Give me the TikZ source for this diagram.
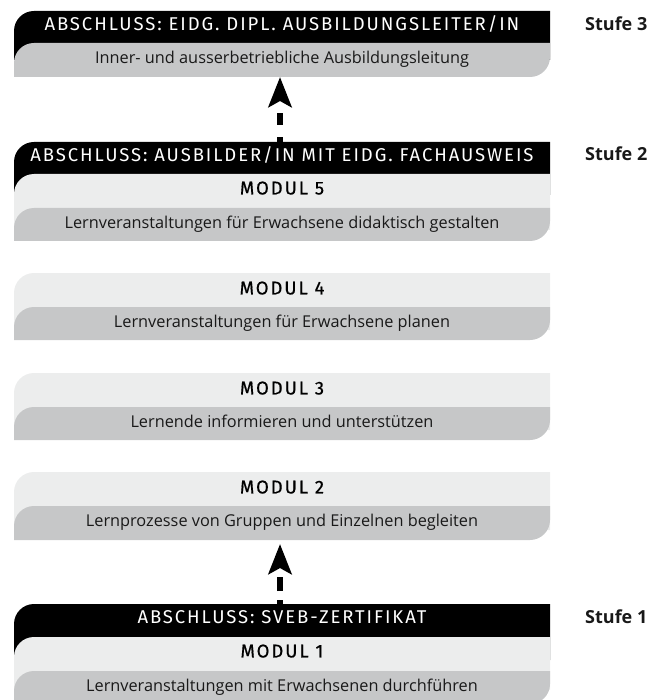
\documentclass[tikz,border=0pt]{standalone}
\usepackage{fontspec}
\usetikzlibrary{arrows.meta}
\newfontfamily\hdfont{Fira Sans}[LetterSpace=10.4]
\newfontfamily\mdfont{Fira Sans}[LetterSpace=10.4,FakeBold=0.6]
\newfontfamily\bdfont{Open Sans}
\newfontfamily\stfont{Open Sans}
\definecolor{lightB}{HTML}{ECEDED}
\definecolor{greyB}{HTML}{C6C7C8}
\newcommand{\bandTL}[3]{\fill[#1] (14,#2+20) .. controls (14,#2+8.95) and (22.95,#2) .. (34,#2) -- (550,#2) -- (550,#3) -- (14,#3) -- cycle;}
\newcommand{\bandTLBR}[3]{\fill[#1] (14,#2+20) .. controls (14,#2+8.95) and (22.95,#2) .. (34,#2) -- (550,#2) -- (550,#3-20) .. controls (550,#3-8.95) and (541.05,#3) .. (530,#3) -- (14,#3) -- cycle;}
\tikzset{
  hdtext/.style={inner sep=0pt, text height=0.69em, text depth=0pt, anchor=center, text=white, font=\hdfont\fontsize{18.5}{22}\selectfont},
  mdtext/.style={inner sep=0pt, text height=0.69em, text depth=0pt, anchor=center, text=black, font=\mdfont\fontsize{18.5}{22}\selectfont},
  bdtext/.style={inner sep=0pt, text height=0.71em, text depth=0pt, anchor=center, text=black!90, font=\bdfont\fontsize{16.3}{19}\selectfont},
  stufe/.style={inner sep=0pt, anchor=base west, text=black!90, font=\stfont\bfseries\fontsize{18}{22}\selectfont},
  uparrow/.style={line width=6pt, -{Stealth[length=30pt,width=23pt,inset=6pt]}}
}
\begin{document}
\begin{tikzpicture}[x=1pt,y=-1pt]
\useasboundingbox (0,0) rectangle (664,700);
% Stufe 3 block
\bandTL{black}{11}{60}
\bandTLBR{greyB}{43}{77}
\node[hdtext] (h3) at (282,27) {ABSCHLUSS: EIDG. DIPL. AUSBILDUNGSLEITER/IN};
\node[bdtext] (b3) at (282,60) {Inner- und ausserbetriebliche Ausbildungsleitung};
\coordinate (b3bot) at (280,77);
% Stufe 2 block
\bandTL{black}{142}{195}
\bandTL{lightB}{174}{230}
\bandTLBR{greyB}{208}{241}
\node[hdtext] (h2) at (282,158) {ABSCHLUSS: AUSBILDER/IN MIT EIDG. FACHAUSWEIS};
\node[mdtext] (m5) at (282,191) {MODUL 5};
\node[bdtext] (b5) at (282,224.5) {Lernveranstaltungen für Erwachsene didaktisch gestalten};
\coordinate (h2top) at (280,142);
% Modul 4
\bandTL{lightB}{273}{330}
\bandTLBR{greyB}{307}{340}
\node[mdtext] (m4) at (282,291) {MODUL 4};
\node[bdtext] (b4) at (282,323.5) {Lernveranstaltungen für Erwachsene planen};
% Modul 3
\bandTL{lightB}{373}{430}
\bandTLBR{greyB}{407}{440}
\node[mdtext] (m3) at (282,391) {MODUL 3};
\node[bdtext] (b3m) at (282,423.5) {Lernende informieren und unterstützen};
% Modul 2
\bandTL{lightB}{472}{530}
\bandTLBR{greyB}{506}{540}
\node[mdtext] (m2) at (282,490) {MODUL 2};
\node[bdtext] (b2) at (282,523) {Lernprozesse von Gruppen und Einzelnen begleiten};
\coordinate (b2bot) at (280,544);
% Stufe 1 block
\bandTL{black}{604}{660}
\bandTL{lightB}{637}{690}
\bandTLBR{greyB}{671}{704}
\node[hdtext] (h1) at (282,620.5) {ABSCHLUSS: SVEB-ZERTIFIKAT};
\node[mdtext] (m1) at (282,654) {MODUL 1};
\node[bdtext] (b1) at (282,687.5) {Lernveranstaltungen mit Erwachsenen durchführen};
\coordinate (h1top) at (280,604);
% arrows
\draw[uparrow, dash pattern=on 12pt off 12pt, dash phase=7pt] (h2top) -- (b3bot);
\draw[uparrow, dash pattern=on 14pt off 9pt, dash phase=10pt] (h1top) -- (b2bot);
% Stufe labels
\node[stufe] (s3) at (585,30.5) {Stufe 3};
\node[stufe] (s2) at (585,160.5) {Stufe 2};
\node[stufe] (s1) at (585,623) {Stufe 1};
\end{tikzpicture}
\end{document}
